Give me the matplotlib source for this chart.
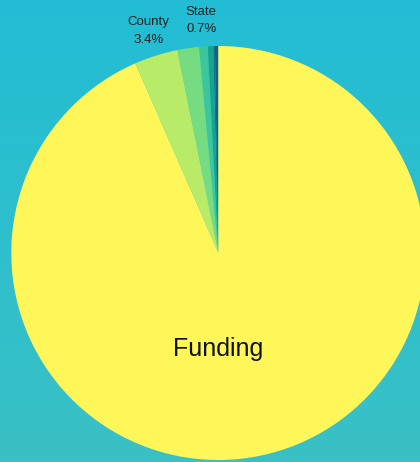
import matplotlib.pyplot as plt
import numpy as np
from matplotlib.colors import LinearSegmentedColormap

# slice order counterclockwise from 12 o'clock
labels = ["", "", "", "State", "", "County", "Funding"]
shares = [0.26, 0.13, 0.43, 0.67, 1.68, 3.4, 93.43]
colors = ["#1d5a8c", "#127482", "#17a393", "#3dc69b", "#76dc81", "#b8ec68", "#fff75a"]

plt.rcParams["font.family"] = ["Liberation Sans", "DejaVu Sans"]

fig = plt.figure(figsize=(4.2, 4.62), dpi=100)

# background gradient
bg = fig.add_axes([0, 0, 1, 1])
grad = np.linspace(0, 1, 256)[:, None]
cmap = LinearSegmentedColormap.from_list("bg", ["#22bdd5", "#3ac1c5"])
bg.imshow(grad, aspect="auto", cmap=cmap, extent=[0, 1, 0, 1])
bg.axis("off")

W, H = 420, 462
cx, cy, r = 218.3, 253, 207
ax = fig.add_axes([(cx - r) / W, (H - cy - r) / H, 2 * r / W, 2 * r / H])

wedges, _ = ax.pie(shares, colors=colors, startangle=90, counterclock=True,
                   radius=1, wedgeprops=dict(linewidth=0))
ax.set_xlim(-1, 1)
ax.set_ylim(-1, 1)
ax.set_aspect("auto")
ax.axis("off")
for w in wedges:
    w.set_clip_on(False)

total = sum(shares)
for w, lab, val in zip(wedges, labels, shares):
    if lab in ("County", "State"):
        ang = np.deg2rad((w.theta1 + w.theta2) / 2)
        ax.text(1.125 * np.cos(ang), 1.125 * np.sin(ang),
                f"{lab}\n{val / total * 100:.1f}%", ha="center", va="center",
                fontsize=9.5, color="#222222", linespacing=1.6, clip_on=False)

ax.text(0, -0.465, "Funding", ha="center", va="center", fontsize=18, color="#111111")

fig.savefig("out.png", dpi=100)
